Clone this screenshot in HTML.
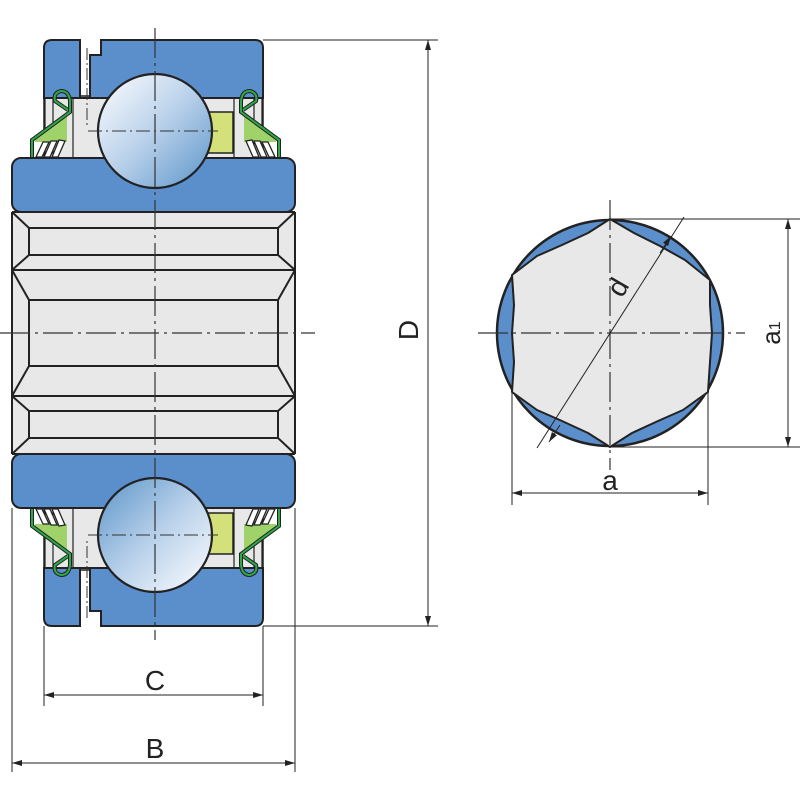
<!DOCTYPE html>
<html><head><meta charset="utf-8"><style>
html,body{margin:0;padding:0;background:#fff;}
svg{display:block}
text{font-family:"Liberation Sans","DejaVu Sans",sans-serif;fill:#222}
</style></head><body>
<svg width="800" height="800" viewBox="0 0 800 800" xmlns="http://www.w3.org/2000/svg">
<defs>
<linearGradient id="bg1" x1="0" y1="0" x2="1" y2="1">
<stop offset="0" stop-color="#ffffff"/><stop offset="0.5" stop-color="#b8d0ea"/><stop offset="1" stop-color="#5a94c8"/>
</linearGradient>
<linearGradient id="bg2" x1="1" y1="1" x2="0" y2="0">
<stop offset="0" stop-color="#ffffff"/><stop offset="0.5" stop-color="#b8d0ea"/><stop offset="1" stop-color="#5a94c8"/>
</linearGradient>
<marker id="ar" viewBox="0 0 10 6" refX="10" refY="3" markerWidth="10" markerHeight="6" orient="auto-start-reverse" markerUnits="userSpaceOnUse">
<path d="M0,0 L10,3 L0,6 z" fill="#222"/></marker>
<g id="half">
<rect x="44" y="96" width="219" height="64" fill="#e8e8e8" stroke="#222" stroke-width="1.5"/>
<line x1="45" y1="98" x2="45" y2="158" stroke="#222" stroke-width="1.2"/>
<line x1="53" y1="98" x2="53" y2="158" stroke="#222" stroke-width="1.2"/>
<line x1="73" y1="98" x2="73" y2="158" stroke="#222" stroke-width="1.2"/>
<line x1="234" y1="98" x2="234" y2="158" stroke="#222" stroke-width="1.2"/>
<line x1="254" y1="98" x2="254" y2="158" stroke="#222" stroke-width="1.2"/>
<line x1="262" y1="98" x2="262" y2="158" stroke="#222" stroke-width="1.2"/>
<path d="M44,98 L44,48 Q44,40 52,40 L80,40 L80,98 Z" fill="#5b8fcc" stroke="#222" stroke-width="2"/>
<path d="M101,40 L255,40 Q263,40 263,48 L263,98 L90,98 L90,55 L101,55 Z" fill="#5b8fcc" stroke="#222" stroke-width="2"/>
<line x1="80" y1="98" x2="90" y2="98" stroke="#222" stroke-width="2"/>
<line x1="87" y1="48" x2="87" y2="125" stroke="#333" stroke-width="1" stroke-dasharray="12,3,2,3"/>
<rect x="207" y="112" width="26" height="41" fill="#d4e07a" stroke="#222" stroke-width="1.5"/>
<g id="seal">
<path d="M35,140 L67,114 L67,142 L35,142 Z" fill="#9fd36a"/>
<g stroke="#222" stroke-width="1.3" fill="#fff">
<path d="M36,157 L43,142 L49,142 L42,157 Z"/>
<path d="M44,157 L51,141 L57,141 L50,157 Z"/>
<path d="M52,157 L59,140 L65,141 L58,157 Z"/>
</g>
<path d="M32,157 L32,140 L70,112 L70,101 Q69,91 61,91 Q53,93 55,101 L68,110" fill="none" stroke="#222" stroke-width="4"/>
<path d="M32,157 L32,140 L70,112 L70,101 Q69,91 61,91 Q53,93 55,101 L68,110" fill="none" stroke="#2fa84a" stroke-width="2"/>
</g>
<use href="#seal" transform="matrix(-1,0,0,1,311,0)"/>
<rect x="12" y="158" width="283" height="54" rx="9" fill="#5b8fcc" stroke="#222" stroke-width="2"/>
<rect x="12" y="212" width="283" height="121" fill="#e8e8e8"/>
<g stroke="#222" stroke-width="2" fill="none">
<line x1="12" y1="212" x2="295" y2="212"/>
<rect x="29" y="228" width="249" height="27"/>
<line x1="12" y1="212" x2="29" y2="228"/><line x1="295" y1="212" x2="278" y2="228"/>
<line x1="12" y1="270" x2="29" y2="255"/><line x1="295" y1="270" x2="278" y2="255"/>
<line x1="12" y1="270" x2="295" y2="270"/>
<line x1="12" y1="270" x2="29" y2="300"/><line x1="295" y1="270" x2="278" y2="300"/>
<line x1="29" y1="300" x2="278" y2="300"/>
<line x1="29" y1="300" x2="29" y2="334"/><line x1="278" y1="300" x2="278" y2="334"/>
<line x1="12" y1="212" x2="12" y2="334"/><line x1="295" y1="212" x2="295" y2="334"/>
</g>
</g>
</defs>

<use href="#half"/>
<use href="#half" transform="matrix(1,0,0,-1,0,666)"/>

<circle cx="155" cy="131" r="57" fill="url(#bg1)" stroke="#222" stroke-width="2.2"/>
<line x1="88" y1="131" x2="218" y2="131" stroke="#333" stroke-width="1" stroke-dasharray="14,4,2,4"/>
<circle cx="155" cy="535" r="57" fill="url(#bg2)" stroke="#222" stroke-width="2.2"/>
<line x1="88" y1="535" x2="218" y2="535" stroke="#333" stroke-width="1" stroke-dasharray="14,4,2,4"/>

<line x1="155" y1="28" x2="155" y2="640" stroke="#333" stroke-width="1.2" stroke-dasharray="30,5,3,5"/>
<line x1="0" y1="333" x2="315" y2="333" stroke="#333" stroke-width="1.2" stroke-dasharray="30,5,3,5"/>

<g stroke="#222" stroke-width="1">
<line x1="263" y1="40" x2="438" y2="40"/>
<line x1="263" y1="626" x2="438" y2="626"/>
<line x1="428" y1="40" x2="428" y2="626" marker-start="url(#ar)" marker-end="url(#ar)"/>
<line x1="44" y1="626" x2="44" y2="706"/>
<line x1="263" y1="626" x2="263" y2="706"/>
<line x1="44" y1="695" x2="263" y2="695" marker-start="url(#ar)" marker-end="url(#ar)"/>
<line x1="12" y1="508" x2="12" y2="772"/>
<line x1="295" y1="508" x2="295" y2="772"/>
<line x1="12" y1="763" x2="295" y2="763" marker-start="url(#ar)" marker-end="url(#ar)"/>
</g>
<text x="155" y="690" font-size="28" text-anchor="middle">C</text>
<text x="155" y="758" font-size="28" text-anchor="middle">B</text>
<text transform="translate(418,330) rotate(-90)" font-size="28" text-anchor="middle">D</text>

<circle cx="610" cy="333" r="113" fill="#5b8fcc" stroke="#222" stroke-width="2.5"/>
<path d="M610,219 L588,233 L562,245 L537,256 L512,275 L514,305 L512,333 L514,362 L512,392 L537,410 L562,421 L588,433 L610,447 L632,433 L658,421 L683,410 L708,392 L710,362 L712,333 L710,305 L710,280 L685,260 L660,246 L634,233 Z" fill="#e8e8e8" stroke="#222" stroke-width="2" stroke-linejoin="round"/>
<line x1="610" y1="200" x2="610" y2="470" stroke="#333" stroke-width="1.2" stroke-dasharray="30,5,3,5"/>
<line x1="478" y1="333" x2="745" y2="333" stroke="#333" stroke-width="1.2" stroke-dasharray="30,5,3,5"/>
<g stroke="#222" stroke-width="1">
<line x1="610" y1="219" x2="800" y2="219"/>
<line x1="610" y1="447" x2="800" y2="447"/>
<line x1="788" y1="219" x2="788" y2="447" marker-start="url(#ar)" marker-end="url(#ar)"/>
<line x1="512" y1="392" x2="512" y2="505"/>
<line x1="708" y1="392" x2="708" y2="505"/>
<line x1="512" y1="493" x2="708" y2="493" marker-start="url(#ar)" marker-end="url(#ar)"/>
<line x1="537" y1="448" x2="684" y2="217"/>
<line x1="560" y1="425" x2="549" y2="442" marker-end="url(#ar)"/>
<line x1="660" y1="253" x2="671" y2="236" marker-end="url(#ar)"/>
</g>
<text x="610" y="490" font-size="28" text-anchor="middle">a</text>
<text transform="translate(780,333) rotate(-90)" font-size="26" text-anchor="middle">a<tspan font-size="16">1</tspan></text>
<text transform="translate(626,292) rotate(-60)" font-size="28" text-anchor="middle">d</text>
</svg>
</body></html>
